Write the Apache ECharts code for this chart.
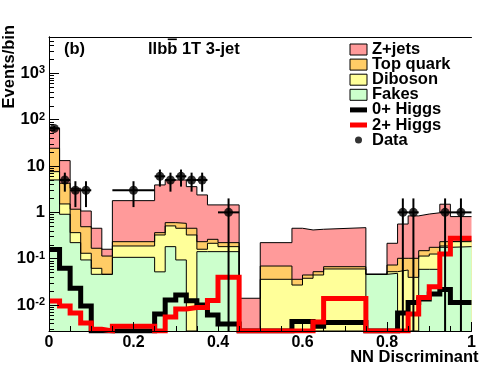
<!DOCTYPE html>
<html>
<head>
<meta charset="utf-8">
<script src="https://cdn.jsdelivr.net/npm/echarts@6/dist/echarts.min.js"></script>
<style>
  html, body { margin: 0; padding: 0; background: #fff; }
  #chart { width: 496px; height: 372px; }
</style>
</head>
<body>
<div id="chart"></div>
<script>
// bin edges of the NN discriminant (variable widths)
const binEdges = [0, 0.025, 0.05, 0.075, 0.1, 0.125, 0.15, 0.25, 0.275, 0.3, 0.325, 0.35, 0.375, 0.4, 0.45,
  0.5, 0.575, 0.6, 0.625, 0.65, 0.75, 0.8, 0.825, 0.85, 0.875, 0.9, 0.925, 0.95, 1.0];

// stack tops per bin (events/bin), 0 = nothing above the axis floor
const zjetsTop = [65.5, 13.1, 3.31, 1.07, 0.454, 0.16, 1.79, 3.91, 5.0, 5.0, 3.59, 2.38, 1.45, 1.45,
  0.014, 0.222, 0.454, 0.417, 0.432, 0.468, 0.046, 0.215, 0.56, 0.84, 0.92, 0.98, 1.50, 0.81];
const topQuarkTop = [24.2, 4.25, 1.17, 0.49, 0.168, 0.114, 0.233, 0.365, 0.60, 0.58, 0.454, 0.233, 0.262, 0.222,
  0, 0.0695, 0.0359, 0.0445, 0.0524, 0.0672, 0.046, 0.073, 0.102, 0.102, 0.149, 0.176, 0.233, 0.245];
const dibosonTop = [7.57, 1.52, 0.365, 0.131, 0.062, 0.046, 0.188, 0.325, 0.51, 0.454, 0.325, 0.160, 0.215, 0.182,
  0, 0.0359, 0.027, 0.0378, 0.0445, 0.060, 0.046, 0.0524, 0.057, 0.0396, 0.114, 0.126, 0.188, 0.233];
const fakes = [5.01, 0.91, 0.222, 0.094, 0.046, 0.046, 0.107, 0.052, 0.182, 0.094, 0, 0.142, 0.142, 0.142,
  0, 0, 0, 0, 0, 0, 0.046, 0.0484, 0, 0, 0.059, 0.059, 0.176, 0.182];

// signal templates
const higgs0p = [0.158, 0.062, 0.0229, 0.0095, 0, 0, 0, 0.0064, 0.0128, 0.0164, 0.0124, 0.010, 0.0061, 0.0039,
  0, 0, 0.0044, 0.0044, 0.0035, 0.0042, 0, 0, 0.0067, 0.0113, 0.0135, 0.0173, 0.0216, 0.0113];
const higgs2p = [0.0122, 0.0095, 0.0067, 0.0041, 0.0030, 0, 0.0035, 0, 0.0055, 0.0082, 0.0088, 0.0088, 0.0125, 0.040,
  0, 0, 0, 0, 0.0043, 0.0138, 0, 0, 0, 0.0064, 0.0145, 0.0248, 0.126, 0.276];

// data points
const dataX = [0.0125, 0.0375, 0.0625, 0.0875, 0.2, 0.2625, 0.2875, 0.3125, 0.3375, 0.3625, 0.425, 0.8375, 0.8625, 0.9375, 0.975];
const dataY = [65, 5, 3, 3, 3, 6, 5, 6, 5, 5, 1, 1, 1, 1, 1];
const dataXErr = [0.0125, 0.0125, 0.0125, 0.0125, 0.05, 0.0125, 0.0125, 0.0125, 0.0125, 0.0125, 0.025, 0.0125, 0.0125, 0.0125, 0.025];
const dataYErr = [8.1, 2.2, 1.7, 1.7, 1.7, 2.4, 2.2, 2.4, 2.2, 2.2, 1, 1, 1, 1, 1];

const yMin = 0.00275;
const yMax = 6100;

const FONT = "'Liberation Sans', Arial, Helvetica, sans-serif";
const TITLE_FONT = "bold 16.5px 'Liberation Sans'";
const PINK = '#ff9a9a', ORANGE = '#ffcc66', YELLOW = '#ffff99', GREEN = '#ccffcc';

function stepData(vals) {
  return binEdges.map((e, i) => [e, Math.max(vals[Math.min(i, vals.length - 1)], yMin)]);
}

function stackSeries(name, vals, fill) {
  return {
    name: name, type: 'line', step: 'end', data: stepData(vals),
    symbol: 'none', color: fill, itemStyle: { color: fill },
    lineStyle: { color: '#000', width: 1 },
    areaStyle: { color: fill, opacity: 1, origin: 'start' },
    z: 2, silent: true
  };
}

function higgsSeries(name, vals, col) {
  return {
    name: name, type: 'line', step: 'end', data: stepData(vals),
    symbol: 'none', color: col, itemStyle: { color: col },
    lineStyle: { color: col, width: 5, join: 'miter' },
    z: 3, silent: true
  };
}

function yLabel(v) {
  const p = Math.log10(v);
  const n = Math.round(p);
  if (Math.abs(p - n) > 1e-6) return '';
  if (n === 0) return '{p|1}';
  if (n === 1) return '{p|10}';
  return '{b|10}{s|' + n + '}';
}

// overline over the second b of "llbb"
const ctx = document.createElement('canvas').getContext('2d');
ctx.font = TITLE_FONT;
const wLlb = ctx.measureText('llb').width;
const wB = ctx.measureText('b').width;

function label(text, x, y, align, rot) {
  return { type: 'text', x: x, y: y, rotation: rot || 0,
    style: { text: text, font: TITLE_FONT, fill: '#000',
      align: align, verticalAlign: 'middle', textAlign: align, textVerticalAlign: 'middle' } };
}

const chart = echarts.init(document.getElementById('chart'), null, { renderer: 'canvas' });

const option = {
  animation: false,
  textStyle: { fontFamily: FONT },
  grid: { left: 49, right: 24.5, top: 37, bottom: 41, containLabel: false, outerBoundsMode: 'none' },
  xAxis: [{
    type: 'value', min: 0, max: 1, interval: 0.2, position: 'bottom', z: 10,
    axisLine: { lineStyle: { color: '#000', width: 1 } },
    axisTick: { inside: true, length: 9, lineStyle: { color: '#000' } },
    minorTick: { show: true, splitNumber: 4, length: 5, lineStyle: { color: '#000' } },
    splitLine: { show: false },
    axisLabel: { color: '#000', fontWeight: 'bold', fontSize: 16, fontFamily: FONT, margin: 4 }
  }, {
    type: 'value', min: 0, max: 1, position: 'top', z: 10,
    axisLine: { show: true, lineStyle: { color: '#000', width: 1 } },
    axisTick: { show: false }, axisLabel: { show: false }, splitLine: { show: false }
  }],
  yAxis: [{
    type: 'log', logBase: 10, min: yMin, max: yMax, position: 'left', z: 10,
    axisLine: { show: true, lineStyle: { color: '#000', width: 1 } },
    axisTick: { inside: true, length: 10, lineStyle: { color: '#000' } },
    minorTick: { show: true, splitNumber: 9, length: 5, lineStyle: { color: '#000' } },
    splitLine: { show: false },
    axisLabel: {
      color: '#000', margin: 4, formatter: yLabel,
      rich: {
        p: { fontSize: 16.5, fontWeight: 'bold', fontFamily: FONT, color: '#000', lineHeight: 18 },
        b: { fontSize: 16.5, fontWeight: 'bold', fontFamily: FONT, color: '#000', lineHeight: 17, verticalAlign: 'bottom' },
        s: { fontSize: 11, fontWeight: 'bold', fontFamily: FONT, color: '#000', lineHeight: 11, padding: [0, 0, 10, 0], verticalAlign: 'top' }
      }
    }
  }, {
    type: 'value', min: 0, max: 1, position: 'right', z: 10,
    axisLine: { show: true, lineStyle: { color: '#000', width: 1 } },
    axisTick: { show: false }, axisLabel: { show: false }, splitLine: { show: false }
  }],
  legend: {
    orient: 'vertical', left: 349.5, top: 41, padding: 0,
    itemWidth: 17, itemHeight: 11, itemGap: -1.9, selectedMode: false,
    textStyle: { color: '#000', fontWeight: 'bold', fontSize: 16.5, fontFamily: FONT, lineHeight: 13 },
    data: [
      { name: 'Z+jets', icon: 'rect', itemStyle: { color: PINK, borderColor: '#000', borderWidth: 1 } },
      { name: 'Top quark', icon: 'rect', itemStyle: { color: ORANGE, borderColor: '#000', borderWidth: 1 } },
      { name: 'Diboson', icon: 'rect', itemStyle: { color: YELLOW, borderColor: '#000', borderWidth: 1 } },
      { name: 'Fakes', icon: 'rect', itemStyle: { color: GREEN, borderColor: '#000', borderWidth: 1 } },
      { name: '0+ Higgs', icon: 'path://M0,0H17V5H0Z', itemStyle: { color: '#000', borderWidth: 0 } },
      { name: '2+ Higgs', icon: 'path://M0,0H17V5H0Z', itemStyle: { color: '#ff0000', borderWidth: 0 } },
      { name: 'Data', icon: 'path://M0,0M17,11M5,5.5a3.5,3.5 0 1 0 7,0a3.5,3.5 0 1 0 -7,0Z', itemStyle: { color: '#000', borderWidth: 0 } }
    ]
  },
  graphic: [
    label('(b)', 64, 49.5, 'left'),
    label('llbb 1T 3-jet', 148, 49.5, 'left'),
    { type: 'line', shape: { x1: 148 + wLlb + 0.5, y1: 39.3, x2: 148 + wLlb + wB - 0.5, y2: 39.3 },
      style: { stroke: '#000', lineWidth: 1.6 } },
    label('Events/bin', 9, 25, 'right', Math.PI / 2),
    label('NN Discriminant', 478.5, 357.5, 'right')
  ],
  series: [
    stackSeries('Z+jets', zjetsTop, PINK),
    stackSeries('Top quark', topQuarkTop, ORANGE),
    stackSeries('Diboson', dibosonTop, YELLOW),
    stackSeries('Fakes', fakes, GREEN),
    higgsSeries('0+ Higgs', higgs0p, '#000'),
    higgsSeries('2+ Higgs', higgs2p, '#ff0000'),
    {
      name: 'dataErr', type: 'custom', z: 4, silent: true,
      encode: { x: 0, y: 1 },
      data: dataX.map((x, i) => [x, dataY[i], dataXErr[i], dataYErr[i]]),
      renderItem: function (params, api) {
        const x = api.value(0), y = api.value(1), ex = api.value(2), ey = api.value(3);
        const lo = api.coord([x, Math.max(y - ey, yMin)]);
        const hi = api.coord([x, y + ey]);
        const l = api.coord([x - ex, y]);
        const r = api.coord([x + ex, y]);
        const st = { stroke: '#000', lineWidth: 2 };
        return {
          type: 'group', children: [
            { type: 'line', shape: { x1: lo[0], y1: lo[1], x2: hi[0], y2: hi[1] }, style: st },
            { type: 'line', shape: { x1: l[0], y1: l[1], x2: r[0], y2: r[1] }, style: st }
          ]
        };
      }
    },
    {
      name: 'Data', type: 'scatter', z: 5, silent: true, symbol: 'circle', symbolSize: 9,
      itemStyle: { color: '#000' },
      data: dataX.map((x, i) => [x, dataY[i]])
    }
  ]
};

chart.setOption(option);
</script>
</body>
</html>
